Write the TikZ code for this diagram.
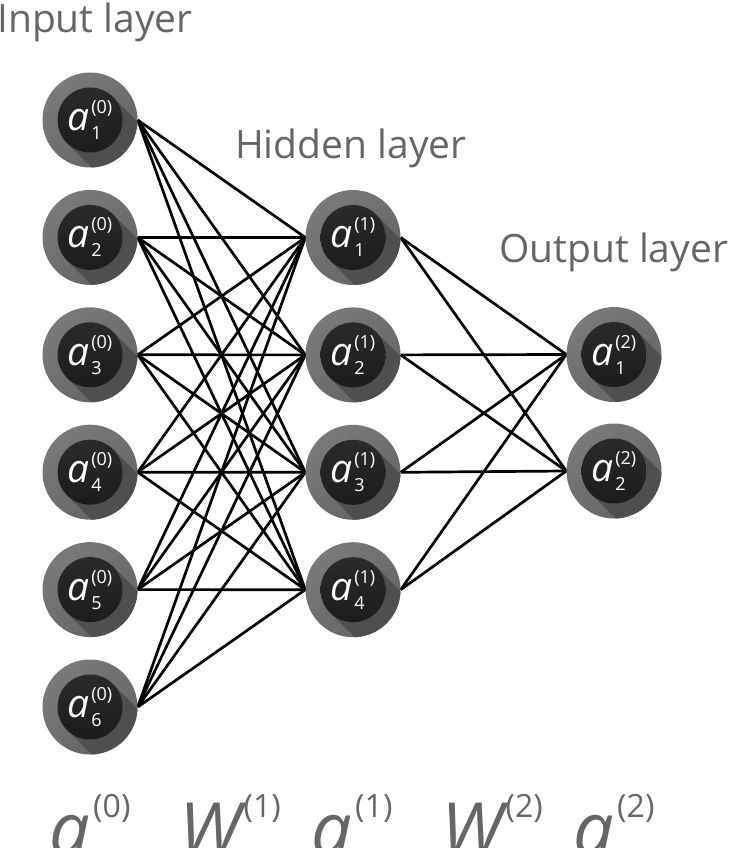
\documentclass[tikz,border=0pt]{standalone}
\usepackage{fontspec}
\setmainfont{Open Sans}
\usetikzlibrary{calc}
\definecolor{ringlight}{HTML}{7A7A7A}
\definecolor{ringdark}{HTML}{646464}
\definecolor{shadowgray}{HTML}{4F4F4F}
\definecolor{corelight}{HTML}{2A2A2A}
\definecolor{coredark}{HTML}{1C1C1C}
\definecolor{labelgray}{HTML}{666666}
\newcommand\actlabel[2]{{\fontsize{39}{39}\selectfont\itshape a}\kern1.5pt\rlap{\raisebox{-9pt}{\fontsize{18}{18}\selectfont #1}}\raisebox{17pt}{\fontsize{18}{18}\selectfont(#2)}}
\newcommand\biglabel[2]{{\fontsize{72}{72}\selectfont\itshape #1}\kern3pt\raisebox{37pt}{\fontsize{32}{32}\selectfont(#2)}}
\pgfdeclarelayer{bg}
\pgfsetlayers{bg,main}
\tikzset{
  neuron/.style={circle, minimum size=95pt, inner sep=0pt, top color=ringlight, bottom color=ringdark, shading angle=40, text=white,
    path picture={
      \coordinate (pc) at (path picture bounding box.center);
      \fill[shadowgray] ($(pc)+(45:32.5)$) -- ++(-45:90) -- ($(pc)+(225:32.5)+(-45:90)$) -- ($(pc)+(225:32.5)$) -- cycle;
      \shade[top color=corelight, bottom color=coredark] (pc) circle (32.5);
    }},
  conn/.style={line width=2.7pt, black},
  layertitle/.style={anchor=base west, text=labelgray, font=\fontsize{39}{39}\selectfont, inner sep=0pt},
  vectorlabel/.style={anchor=base, text=labelgray, inner sep=0pt}
}
\begin{document}
\begin{tikzpicture}[x=1pt,y=1pt]
\clip (0,0) rectangle (728,-848);
\useasboundingbox (0,0) rectangle (728,-848);
% input layer
\foreach \i in {1,...,6} {
  \node[neuron] (i\i) at (90,{-120-117.4*(\i-1)}) {\actlabel{\i}{0}};
}
% hidden layer
\foreach \j in {1,...,4} {
  \node[neuron] (h\j) at (353,{-237.5-117.4*(\j-1)}) {\actlabel{\j}{1}};
}
% output layer
\foreach \k in {1,2} {
  \node[neuron] (o\k) at (614,{-354.5-116.5*(\k-1)}) {\actlabel{\k}{2}};
}
\begin{pgfonlayer}{bg}
\fill[white] (0,0) rectangle (728,-848);
\foreach \i in {1,...,6} \foreach \j in {1,...,4} \draw[conn] (i\i.east) -- (h\j.west);
\foreach \j in {1,...,4} \foreach \k in {1,2} \draw[conn] (h\j.east) -- (o\k.west);
\end{pgfonlayer}
% titles
\node[layertitle] (tin) at (-3,-33) {Input layer};
\node[layertitle] (thid) at (235,-158) {Hidden layer};
\node[layertitle] (tout) at (499,-262) {Output layer};
% bottom labels
\node[vectorlabel] (v0) at (90,-854) {\biglabel{a}{0}};
\node[vectorlabel] (w1) at (230,-854) {\biglabel{W}{1}};
\node[vectorlabel] (v1) at (352,-854) {\biglabel{a}{1}};
\node[vectorlabel] (w2) at (492,-854) {\biglabel{W}{2}};
\node[vectorlabel] (v2) at (614,-854) {\biglabel{a}{2}};
\end{tikzpicture}
\end{document}
